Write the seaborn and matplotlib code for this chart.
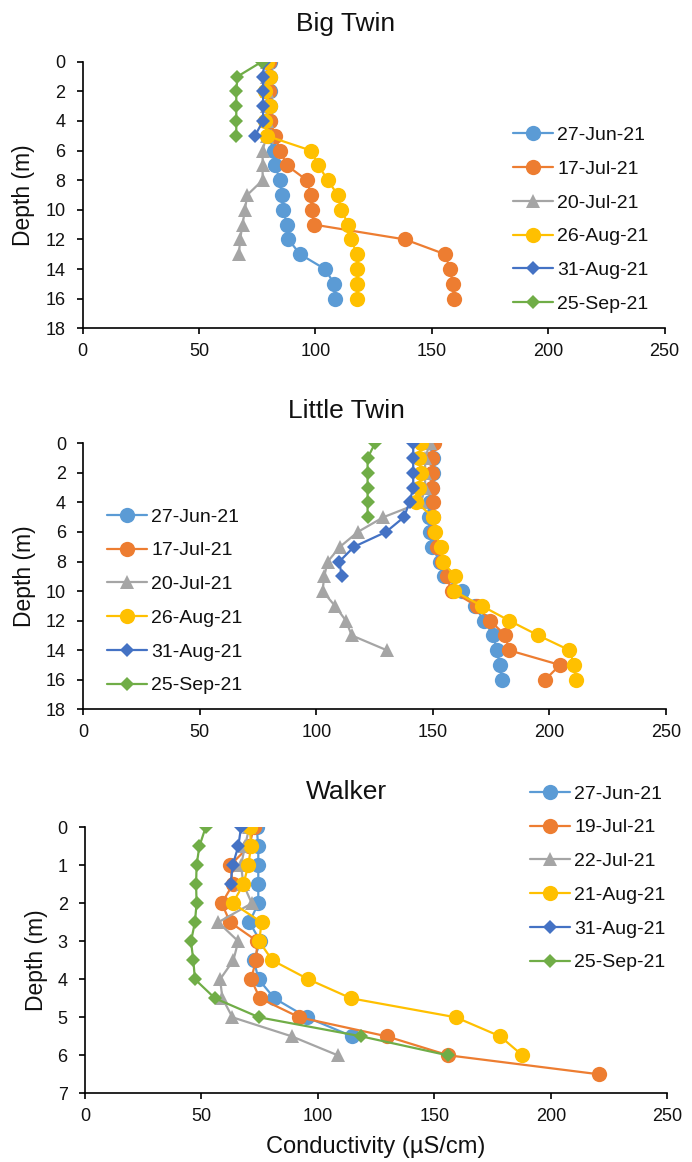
import matplotlib
matplotlib.use("Agg")
import matplotlib.pyplot as plt
import seaborn as sns
import pandas as pd

sns.set_theme(style="white")
plt.rcParams['font.family'] = ['Liberation Sans', 'DejaVu Sans']

W, H = 692, 1162

COLORS = ["#5B9BD5", "#ED7D31", "#A5A5A5", "#FFC000", "#4472C4", "#70AD47"]
MARKERS = ["o", "o", "^", "o", "D", "D"]

# ---------------- Big Twin ----------------
bt_dates = ["27-Jun-21", "17-Jul-21", "20-Jul-21", "26-Aug-21", "31-Aug-21", "25-Sep-21"]
bt_depth = [0, 1, 2, 3, 4, 5, 6, 7, 8, 9, 10, 11, 12, 13, 14, 15, 16]
bt_jun27 = [80.5, 80.5, 80.5, 80.5, 80.5, 80.0, 82.0, 82.6, 84.8, 85.5, 86.2, 87.7, 88.4, 93.4, 104.1, 108.1, 108.4]
bt_jul17 = [80.0, 80.0, 80.0, 80.0, 80.5, 82.6, 84.8, 87.7, 96.3, 98.1, 98.4, 99.4, 138.5, 155.7, 157.8, 159.0, 159.6]
bt_jul20 = [79.0, 79.0, 79.0, 79.0, 79.0, 79.0, 77.3, 77.3, 77.3, 70.7, 69.7, 68.7, 67.6, 67.2]
bt_aug26 = [79.0, 80.5, 78.5, 80.5, 78.5, 79.0, 98.1, 101.3, 105.3, 109.6, 111.0, 114.2, 115.2, 118.0, 118.0, 118.0, 118.0]
bt_aug31 = [78.0, 77.5, 77.5, 77.5, 77.5, 74.0]
bt_sep25 = [77.0, 66.5, 66.0, 66.0, 66.0, 66.0]

# ---------------- Little Twin ----------------
lt_dates = ["27-Jun-21", "17-Jul-21", "20-Jul-21", "26-Aug-21", "31-Aug-21", "25-Sep-21"]
lt_depth = [0, 1, 2, 3, 4, 5, 6, 7, 8, 9, 10, 11, 12, 13, 14, 15, 16]
lt_jun27 = [149.5, 150.0, 150.0, 149.5, 148.8, 148.3, 148.8, 149.5, 153.1, 155.0, 162.4, 168.0, 171.9, 176.0, 177.4, 178.8, 179.6]
lt_jul17 = [150.5, 149.5, 149.5, 149.5, 150.2, 150.2, 150.5, 151.7, 153.8, 155.9, 158.1, 168.8, 174.5, 181.2, 182.6, 204.6, 198.2]
lt_jul20 = [148.8, 146.7, 146.7, 146.7, 145.0, 128.8, 117.8, 110.2, 104.9, 103.4, 102.7, 108.0, 112.7, 115.2, 130.2]
lt_aug26 = [145.0, 144.0, 145.0, 144.0, 143.0, 150.2, 151.0, 153.4, 154.2, 159.5, 159.1, 171.0, 182.8, 195.3, 208.6, 210.7, 211.3]
lt_aug31 = [141.6, 141.6, 141.6, 141.6, 140.0, 137.6, 129.9, 116.2, 109.9, 110.9]
lt_sep25 = [125.2, 122.0, 122.0, 122.0, 122.0, 122.0]

# ---------------- Walker ----------------
wk_dates = ["27-Jun-21", "19-Jul-21", "22-Jul-21", "21-Aug-21", "31-Aug-21", "25-Sep-21"]
wk_depth = [0, 0.5, 1, 1.5, 2, 2.5, 3, 3.5, 4, 4.5, 5, 5.5, 6, 6.5]
wk_jun27 = [73.7, 74.4, 74.4, 74.4, 74.4, 70.6, 75.3, 72.5, 74.5, 81.3, 95.2, 114.7]
wk_jul19 = [72.5, 70.5, 62.3, 63.5, 58.7, 62.3, 74.0, 73.4, 71.3, 75.1, 92.0, 129.5, 156.0, 220.7]
wk_jul22 = [70.5, 68.7, 67.0, 68.0, 71.6, 57.2, 65.8, 63.7, 58.0, 59.0, 63.3, 88.7, 108.5]
wk_aug21 = [70.8, 71.3, 70.1, 68.0, 63.4, 75.8, 74.8, 80.4, 95.9, 114.2, 159.2, 178.2, 187.8]
wk_aug31 = [67.0, 65.8, 63.4, 62.5]
wk_sep25 = [51.8, 49.1, 47.9, 47.7, 47.9, 47.2, 45.5, 46.5, 47.2, 55.8, 74.7, 118.5, 155.7]

x_ticks = [0, 50, 100, 150, 200, 250]
twin_y_ticks = [0, 2, 4, 6, 8, 10, 12, 14, 16, 18]
walker_y_ticks = [0, 1, 2, 3, 4, 5, 6, 7]


def make_df(dates, depth, series):
    rows = []
    for d, vals in zip(dates, series):
        for z, v in zip(depth, vals):
            rows.append({"date": d, "depth": z, "cond": v})
    return pd.DataFrame(rows)


fig = plt.figure(figsize=(W / 100, H / 100), dpi=100)


def add_ax(l, r, t, b):
    return fig.add_axes([l / W, 1 - b / H, (r - l) / W, (b - t) / H])


def draw_panel(ax, dates, depth, series, ymax, yticks, title, title_y, leg_xy):
    df = make_df(dates, depth, series)
    sns.lineplot(data=df, x="cond", y="depth", hue="date", style="date",
                 hue_order=dates, style_order=dates,
                 palette=dict(zip(dates, COLORS)),
                 markers=dict(zip(dates, MARKERS)), dashes=False,
                 sort=False, estimator=None, legend=False, ax=ax,
                 linewidth=1.6, markeredgewidth=0)
    for line, m in zip(ax.lines, MARKERS):
        line.set_markersize({"o": 11, "^": 9.8, "D": 7.0}[m])
    ax.set_xlim(0, 250)
    ax.set_ylim(ymax, 0)
    ax.set_xticks(x_ticks)
    ax.set_yticks(yticks)
    ax.set_xlabel("")
    ax.set_ylabel("Depth (m)", fontsize=16.5, labelpad=7, color="#111111")
    for s in ["top", "right"]:
        ax.spines[s].set_visible(False)
    for s in ["left", "bottom"]:
        ax.spines[s].set_color("black")
        ax.spines[s].set_linewidth(1.2)
    ax.tick_params(axis="both", direction="out", length=4.5, width=1.2,
                   color="black", labelsize=13, labelcolor="#111111",
                   left=True, bottom=True)
    ax.tick_params(axis="y", pad=8)
    ax.tick_params(axis="x", pad=6)
    fig.text(0.5, 1 - title_y / H, title, ha="center", va="baseline",
             fontsize=19, color="#111111")
    ax.legend(ax.lines[:6], dates, loc="upper left",
              bbox_to_anchor=(leg_xy[0] / W, 1 - leg_xy[1] / H),
              bbox_transform=fig.transFigure, frameon=False, borderpad=0,
              borderaxespad=0, handlelength=2.06, handletextpad=0.22,
              labelspacing=0.83, fontsize=14, labelcolor="#111111")


ax1 = add_ax(82.7, 664.5, 61.7, 328.3)
draw_panel(ax1, bt_dates, bt_depth,
           [bt_jun27, bt_jul17, bt_jul20, bt_aug26, bt_aug31, bt_sep25],
           18, twin_y_ticks, "Big Twin", 30.7, (512.7, 126.5))

ax2 = add_ax(83.3, 665.8, 443.3, 709.3)
draw_panel(ax2, lt_dates, lt_depth,
           [lt_jun27, lt_jul17, lt_jul20, lt_aug26, lt_aug31, lt_sep25],
           18, twin_y_ticks, "Little Twin", 418, (106.7, 508))

ax3 = add_ax(85, 667.3, 827.3, 1093.3)
draw_panel(ax3, wk_dates, wk_depth,
           [wk_jun27, wk_jul19, wk_jul22, wk_aug21, wk_aug31, wk_sep25],
           7, walker_y_ticks, "Walker", 799, (530, 785))
ax3.set_xlabel("Conductivity (µS/cm)", fontsize=17, labelpad=8, color="#111111")

fig.savefig("out.png", dpi=100)
